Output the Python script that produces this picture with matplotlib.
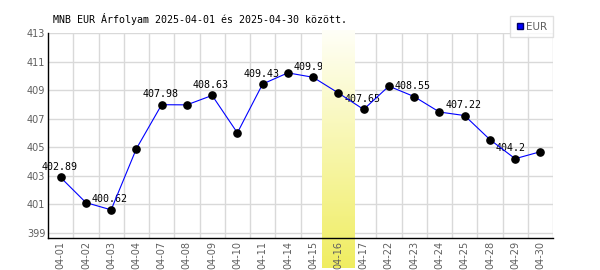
"""MNB EUR exchange-rate chart for April 2025.

Daily fixings drawn as a thin blue line with black dots, every other day
labelled with its value, and one highlighted day shaded with a soft yellow
gradient that runs off the plot area into the tick labels.
"""

import matplotlib

matplotlib.use("Agg")
import matplotlib.pyplot as plt
import numpy as np
from matplotlib.lines import Line2D

# Trading days shown on the x axis.
dates = [
    "04-01", "04-02", "04-03", "04-04", "04-07", "04-08", "04-09", "04-10",
    "04-11", "04-14", "04-15", "04-16", "04-17", "04-22", "04-23", "04-24",
    "04-25", "04-28", "04-29", "04-30",
]

# EUR/HUF fixings.
rates = [
    402.89, 401.13, 400.62, 404.90, 407.98, 407.97, 408.63, 406.01,
    409.43, 410.21, 409.90, 408.80, 407.65, 409.28, 408.55, 407.47,
    407.22, 405.54, 404.20, 404.69,
]

# Which day gets the yellow highlight.
highlight_date = "04-16"

y_ticks = [399, 401, 403, 405, 407, 409, 411, 413]

title = "MNB EUR Árfolyam 2025-04-01 és 2025-04-30 között."
series_name = "EUR"

GRID_COLOR = "#d9d9d9"
TICK_COLOR = "#5f5f5f"
MONO = "DejaVu Sans Mono"


def draw_chart() -> None:
    """Build the figure and write it to out.png."""
    figure = plt.figure(figsize=(6.0, 2.7), dpi=100)
    axes = figure.add_axes([48 / 600, 32 / 270, 505 / 600, 205 / 270])

    positions = np.arange(len(dates))
    axes.set_xlim(-0.5, len(dates) - 0.5)
    axes.set_ylim(398.65, 413)

    # Grid is drawn by hand so it can sit under the highlight band while the
    # tick labels stay on top of it.
    for value in y_ticks:
        axes.axhline(value, color=GRID_COLOR, linewidth=1, zorder=0.5)
    for edge in positions + 0.5:
        axes.axvline(edge, color=GRID_COLOR, linewidth=1, zorder=0.5)

    # Highlight band: white at the top fading to yellow at the bottom, running
    # past the axes on both ends.
    index = dates.index(highlight_date)
    gradient = np.linspace(0, 1, 256).reshape(-1, 1)
    top_color = np.array([1.0, 1.0, 0.97])
    bottom_color = np.array([0.94, 0.93, 0.38])
    band = top_color + gradient * (bottom_color - top_color)
    axes.imshow(
        band.reshape(256, 1, 3),
        extent=(index - 0.64, index + 0.63, 396.55, 413.2),
        aspect="auto",
        interpolation="bilinear",
        zorder=1,
        clip_on=False,
    )

    axes.plot(positions, rates, color="#0000ff", linewidth=0.8, zorder=2)
    axes.plot(
        positions, rates, linestyle="none", marker="o", markersize=5.2,
        color="black", zorder=3,
    )

    # Every other day gets its value written above the dot. The text is
    # placed as if it always had six characters, so short values sit a bit to
    # the left; labels before the highlight end up under the band.
    for position, rate in zip(positions[::2], rates[::2]):
        layer = 0.8 if position < index else 1.5
        axes.annotate(
            f"{rate:g}", (position, rate), xytext=(-14, 7.5),
            textcoords="offset points", ha="left", va="center",
            fontsize=7.2, family=MONO, color="black", zorder=layer,
        )

    axes.set_xticks(positions, dates, rotation=90)
    axes.set_yticks(y_ticks)
    axes.tick_params(length=0, labelsize=7, colors=TICK_COLOR, pad=2)
    for spine in ("top", "right"):
        axes.spines[spine].set_visible(False)
    for spine in ("left", "bottom"):
        axes.spines[spine].set_color("black")
        axes.spines[spine].set_linewidth(1)

    figure.text(53 / 600, 1 - 19 / 270, title, fontsize=7.2, family=MONO,
                va="center", ha="left")

    handle = Line2D([], [], linestyle="none", marker="s", markersize=5,
                    markerfacecolor="#0000ff", markeredgecolor="#000066")
    legend = figure.legend(
        [handle], [series_name], loc="upper right",
        bbox_to_anchor=(553 / 600, 1 - 16 / 270), fontsize=7.5,
        frameon=True, fancybox=False, borderpad=0.55, handlelength=0.8,
        handletextpad=0.2, borderaxespad=0,
    )
    legend.get_frame().set_edgecolor(GRID_COLOR)
    legend.get_frame().set_linewidth(1)
    for text in legend.get_texts():
        text.set_color(TICK_COLOR)

    figure.savefig("out.png", dpi=100)
    plt.close(figure)


if __name__ == "__main__":
    draw_chart()
